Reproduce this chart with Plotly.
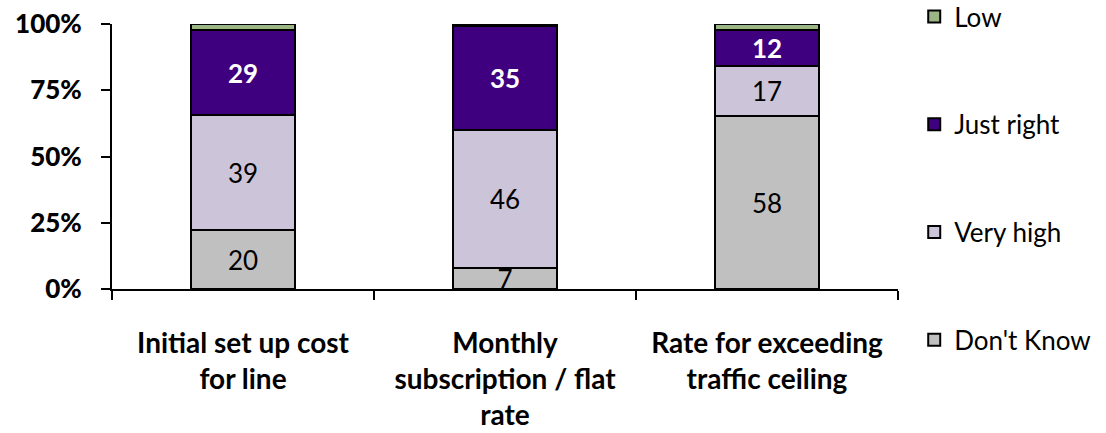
import plotly.graph_objects as go

# Survey answers per pricing element (counts, normalised to 100% per bar)
categories = [
    "Initial set up cost<br>for line",
    "Monthly<br>subscription / flat<br>rate",
    "Rate for exceeding<br>traffic ceiling",
]
dont_know = [20, 7, 58]
very_high = [39, 46, 17]
just_right = [29, 35, 12]
low = [2, 0.5, 2]

y_ticks = [0, 25, 50, 75, 100]
y_tick_labels = [f"{v}%" for v in y_ticks]

# name, values, fill, label colour, label weight, labelled, legend rank
series = [
    ("Don't Know", dont_know, "#C0C0C0", "black", "normal", True, 4),
    ("Very high", very_high, "#CCC4D8", "black", "normal", True, 3),
    ("Just right", just_right, "#3F007F", "white", "bold", True, 2),
    ("Low", low, "#9BB584", "black", "normal", False, 1),
]

FONT = "Lato"

fig = go.Figure()
for name, vals, color, tcolor, tweight, labelled, rank in series:
    fig.add_trace(go.Bar(
        x=categories,
        y=vals,
        name=name,
        legendgroup=name,
        legendrank=rank,
        marker=dict(color=color, line=dict(color="black", width=2)),
        text=[str(v) for v in vals] if labelled else None,
        texttemplate="%{text}" if labelled else None,
        textposition="inside" if labelled else "none",
        insidetextanchor="middle",
        textangle=0,
        constraintext="none",
        textfont=dict(family=FONT, size=26, color=tcolor, weight=tweight),
        cliponaxis=False,
    ))

fig.update_layout(
    width=1106,
    height=433,
    barmode="stack",
    barnorm="percent",
    bargap=0.6,
    paper_bgcolor="white",
    plot_bgcolor="white",
    margin=dict(l=112, r=208, t=24, b=144, autoexpand=False),
    font=dict(family=FONT, color="black"),
    legend=dict(
        traceorder="grouped",
        xref="container", yref="paper",
        x=0.8266, xanchor="left",
        y=1.117, yanchor="top",
        font=dict(family=FONT, size=26, color="black"),
        tracegroupgap=71,
        itemwidth=30,
        maxheight=433,
    ),
    showlegend=True,
)

fig.update_xaxes(
    type="category",
    tickvals=categories,
    ticktext=categories,
    tickson="boundaries",
    ticks="outside",
    ticklen=9,
    tickwidth=2,
    tickcolor="black",
    showline=True,
    linecolor="black",
    linewidth=2,
    showgrid=False,
    tickfont=dict(family=FONT, size=28, color="black", weight="bold"),
    ticklabelstandoff=28,
)
fig.update_yaxes(
    range=[0, 100],
    tickvals=y_ticks,
    ticktext=y_tick_labels,
    ticks="outside",
    ticklen=9,
    tickwidth=2,
    tickcolor="black",
    showline=True,
    linecolor="black",
    linewidth=2,
    showgrid=False,
    zeroline=False,
    tickfont=dict(family=FONT, size=26, color="black", weight=900),
    ticklabelstandoff=14,
)

fig.write_html("out.html")
